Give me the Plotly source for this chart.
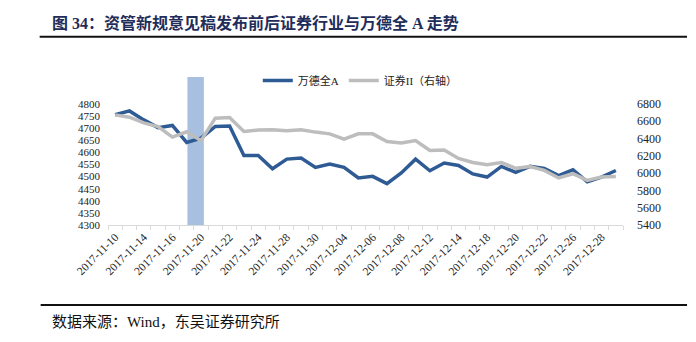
import plotly.graph_objects as go

# Trading days, 2017-11-10 .. 2017-12-29
dates = [
    "2017-11-10", "2017-11-13", "2017-11-14", "2017-11-15", "2017-11-16", "2017-11-17",
    "2017-11-20", "2017-11-21", "2017-11-22", "2017-11-23", "2017-11-24", "2017-11-27",
    "2017-11-28", "2017-11-29", "2017-11-30", "2017-12-01", "2017-12-04", "2017-12-05",
    "2017-12-06", "2017-12-07", "2017-12-08", "2017-12-11", "2017-12-12", "2017-12-13",
    "2017-12-14", "2017-12-15", "2017-12-18", "2017-12-19", "2017-12-20", "2017-12-21",
    "2017-12-22", "2017-12-25", "2017-12-26", "2017-12-27", "2017-12-28", "2017-12-29",
]
# 万德全A (left axis)
wind_all_a = [
    4755, 4771, 4734, 4702, 4711, 4641, 4659, 4707, 4709, 4587, 4587, 4532,
    4572, 4577, 4538, 4552, 4538, 4494, 4501, 4471, 4515, 4572, 4524, 4556,
    4546, 4511, 4498, 4542, 4517, 4542, 4534, 4504, 4528, 4478, 4498, 4525,
]
# 证券II (right axis)
securities_ii = [
    6673, 6646, 6580, 6538, 6416, 6478, 6375, 6635, 6642, 6481, 6497, 6500,
    6489, 6500, 6474, 6454, 6393, 6454, 6454, 6365, 6347, 6377, 6262, 6266,
    6170, 6123, 6097, 6123, 6055, 6077, 6031, 5944, 5993, 5916, 5955, 5962,
]
left_ticks = list(range(4300, 4801, 50))
right_ticks = list(range(5400, 6801, 200))
# window around the asset-management draft rules release
highlight_start, highlight_end = "2017-11-17", "2017-11-20"

W, H = 696, 342
L, R, T, B = 108.3, 623.0, 77.0, 225.5


def px(x):
    return (x - L) / (R - L)


def py(y):
    return (B - y) / (B - T)


BLUE = "#2F5B95"
GRAY = "#BDBDBD"
SERIF = "Liberation Serif, Noto Sans CJK SC"
CJK = "Liberation Serif, Noto Sans CJK SC"

fig = go.Figure()
fig.add_trace(go.Scatter(
    x=dates, y=wind_all_a, name="万德全A", mode="lines",
    line=dict(color=BLUE, width=3.5), yaxis="y",
))
fig.add_trace(go.Scatter(
    x=dates, y=securities_ii, name="证券II（右轴）", mode="lines",
    line=dict(color=GRAY, width=3.5), yaxis="y2",
))

i0 = dates.index(highlight_start)
i1 = dates.index(highlight_end)
fig.add_shape(type="rect", xref="x", yref="y domain",
              x0=i0 + 0.05, x1=i1 + 0.2, y0=0, y1=1,
              fillcolor="#A7C0E0", line=dict(width=0), layer="below")

# left range extends above the top tick so the highlight reaches the legend row
lmin, lmax = 4300, 4300 + (B - T) * 50 / ((B - 104) / 10)
rmin, rmax = 5400, 5400 + (B - T) * 200 / ((B - 104) / 7)

ticktext = [d if i % 2 == 0 else "" for i, d in enumerate(dates)]

fig.update_layout(
    width=W, height=H,
    margin=dict(l=L, r=W - R, t=T, b=H - B, pad=0),
    paper_bgcolor="white", plot_bgcolor="white",
    showlegend=True,
    legend=dict(orientation="h", x=px(258), y=py(66), xanchor="left", yanchor="top",
                font=dict(family=CJK, size=11, color="#222"),
                bgcolor="rgba(0,0,0,0)", itemwidth=30, tracegroupgap=0),
    xaxis=dict(type="category", range=[-0.5, len(dates) - 0.5],
               tickmode="array", tickvals=dates, ticktext=ticktext,
               tickson="boundaries", ticks="outside", ticklen=4, tickcolor="#D9D9D9",
               showline=True, linecolor="#D9D9D9", linewidth=1,
               showgrid=False, zeroline=False, tickangle=-45,
               tickfont=dict(family=SERIF, size=11.5, color="#222")),
    yaxis=dict(range=[lmin, lmax], tickmode="array", tickvals=left_ticks,
               showgrid=False, zeroline=False, showline=False, ticks="",
               ticklabelstandoff=7,
               tickfont=dict(family=SERIF, size=11, color="#222")),
    yaxis2=dict(range=[rmin, rmax], overlaying="y", side="right",
                tickmode="array", tickvals=right_ticks,
                showgrid=False, zeroline=False, showline=False, ticks="",
                ticklabelstandoff=13,
                tickfont=dict(family=SERIF, size=12, color="#222")),
)

# title, rules and source note
fig.add_annotation(text="<b>图 34：资管新规意见稿发布前后证券行业与万德全 A 走势</b>",
                   xref="paper", yref="paper", x=px(50), y=py(22.7),
                   xanchor="left", yanchor="middle", showarrow=False,
                   font=dict(family=CJK, size=16, color="#1F2D5A"))
fig.add_shape(type="line", xref="paper", yref="paper",
              x0=px(40), x1=px(687), y0=py(36.7), y1=py(36.7),
              line=dict(color="#111", width=2))
fig.add_shape(type="line", xref="paper", yref="paper",
              x0=px(41), x1=px(687), y0=py(305.7), y1=py(305.7),
              line=dict(color="#111", width=2))
fig.add_annotation(text="数据来源：Wind，东吴证券研究所",
                   xref="paper", yref="paper", x=px(50), y=py(322.7),
                   xanchor="left", yanchor="middle", showarrow=False,
                   font=dict(family=CJK, size=15, color="#111"))

fig.write_html("out.html")
